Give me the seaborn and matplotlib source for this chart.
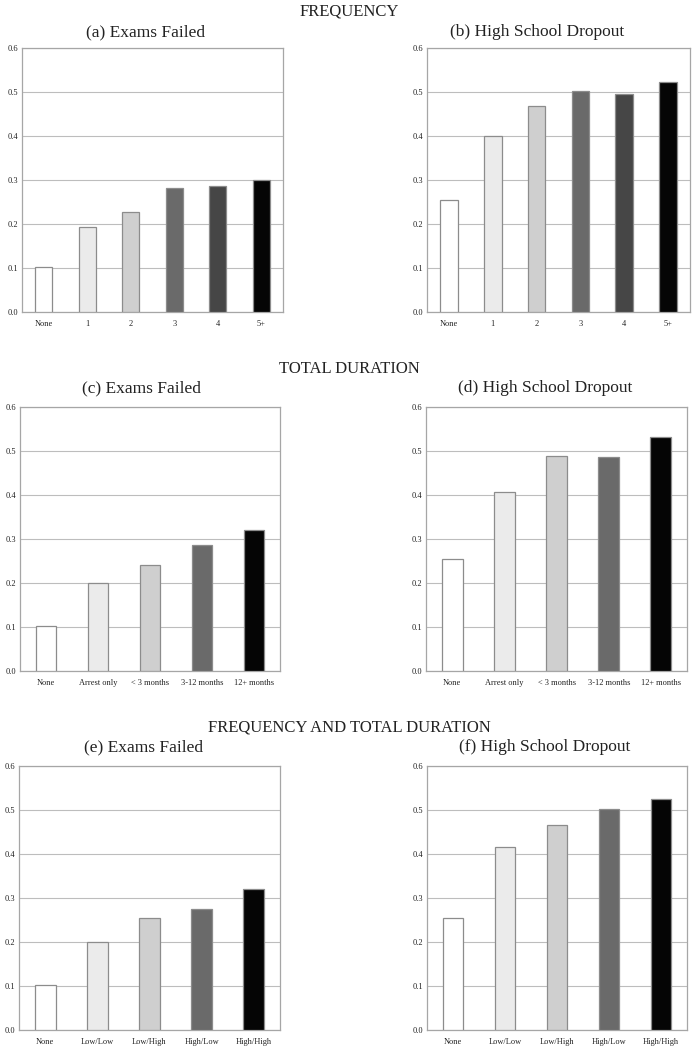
import matplotlib
matplotlib.use("Agg")
import matplotlib.pyplot as plt
import seaborn as sns
import pandas as pd

sns.set_style("white")
plt.rcParams['font.family'] = ['Liberation Serif', 'DejaVu Serif']

freq_cats = ["None", "1", "2", "3", "4", "5+"]
dur_cats = ["None", "Arrest only", "< 3 months", "3-12 months", "12+ months"]
combo_cats = ["None", "Low/Low", "Low/High", "High/Low", "High/High"]

freq_exams = [0.103, 0.193, 0.227, 0.282, 0.287, 0.301]
freq_dropout = [0.255, 0.400, 0.469, 0.502, 0.495, 0.523]
dur_exams = [0.103, 0.201, 0.240, 0.287, 0.321]
dur_dropout = [0.255, 0.406, 0.488, 0.486, 0.532]
combo_exams = [0.103, 0.200, 0.254, 0.275, 0.320]
combo_dropout = [0.255, 0.416, 0.466, 0.502, 0.525]

yticks = [0.0, 0.1, 0.2, 0.3, 0.4, 0.5, 0.6]

section_titles = ["FREQUENCY", "TOTAL DURATION", "FREQUENCY AND TOTAL DURATION"]
panel_titles = ["(a) Exams Failed", "(b) High School Dropout",
                "(c) Exams Failed", "(d) High School Dropout",
                "(e) Exams Failed", "(f) High School Dropout"]

colors6 = ["#FFFFFF", "#EBEBEB", "#CFCFCF", "#6A6A6A", "#464646", "#050505"]
colors5 = ["#FFFFFF", "#EBEBEB", "#CFCFCF", "#6A6A6A", "#050505"]

W, H = 698, 1050
fig = plt.figure(figsize=(W / 100, H / 100), dpi=100)

# (left, right, top, bottom) in pixels
boxes = [(22, 283, 48, 312), (427, 690, 48, 312),
         (20, 280, 407, 671), (426, 687, 407, 671),
         (19, 280, 766, 1030), (427, 687, 766, 1030)]
datasets = [(freq_cats, freq_exams), (freq_cats, freq_dropout),
            (dur_cats, dur_exams), (dur_cats, dur_dropout),
            (combo_cats, combo_exams), (combo_cats, combo_dropout)]
title_pos = [(146, 32), (537, 32), (142, 388), (545, 388), (144, 747), (545, 747)]
section_pos = [(349, 12), (349, 369), (349, 727)]

for (l, r, t, b), (cats, vals), (tx, ty), ttl in zip(boxes, datasets, title_pos, panel_titles):
    ax = fig.add_axes([l / W, 1 - b / H, (r - l) / W, (b - t) / H])
    df = pd.DataFrame({"cat": cats, "val": vals})
    pal = colors6 if len(cats) == 6 else colors5
    sns.barplot(data=df, x="cat", y="val", hue="cat", palette=pal, legend=False,
                width=0.4, edgecolor="#8C8C8C", linewidth=0.9, ax=ax, zorder=3)
    ax.set_ylim(0, 0.6)
    ax.set_yticks(yticks)
    ax.set_yticklabels([f"{v:.1f}" for v in yticks])
    ax.set_xlim(-0.5, len(cats) - 0.5)
    ax.yaxis.grid(True, color="#BDBDBD", linewidth=0.8, zorder=0)
    ax.set_axisbelow(True)
    ax.set_xlabel("")
    ax.set_ylabel("")
    ax.tick_params(axis="y", length=0, labelsize=6, pad=3, colors="#222222")
    ax.tick_params(axis="x", length=0, labelsize=6, pad=6, colors="#222222")
    for s in ax.spines.values():
        s.set_color("#A6A6A6")
        s.set_linewidth(0.9)
    fig.text(tx / W, 1 - ty / H, ttl, ha="center", va="center", fontsize=12.5, color="#222222")

for (sx, sy), st in zip(section_pos, section_titles):
    fig.text(sx / W, 1 - sy / H, st, ha="center", va="center", fontsize=12, color="#222222")

fig.savefig("out.png", dpi=100)
